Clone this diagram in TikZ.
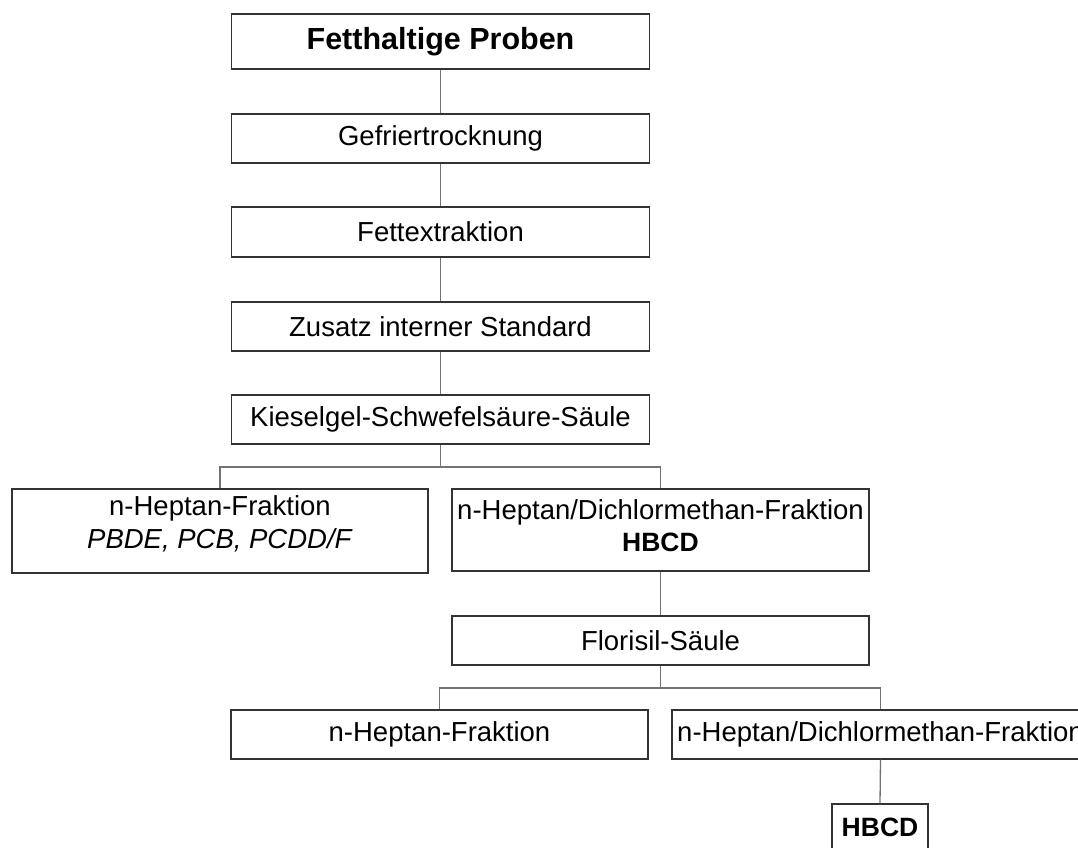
\documentclass[tikz,border=0pt]{standalone}
\usepackage{fontspec}
\setmainfont{Liberation Sans}
\begin{document}
\begin{tikzpicture}[x=1pt,y=-1pt,
  box/.style={draw=black!80, line width=1.2pt, rectangle, inner sep=0pt, align=center,
              font=\fontsize{27.5}{30}\selectfont, text=black},
  txt/.style={inner sep=0pt, align=center, text=black},
  conn/.style={draw=black!55, line width=1.3pt}]
\clip (0,0) rectangle (1078,847);
\node[box, minimum width=418pt, minimum height=55pt, font=\fontsize{30.5}{34}\selectfont\bfseries] (p) at (440.5,41.5) {Fetthaltige Proben};
\node[box, minimum width=418pt, minimum height=49pt] (g) at (440.5,138.5) {Gefriertrocknung};
\node[box, minimum width=418pt, minimum height=50pt] (fe) at (440.5,232) {Fettextraktion};
\node[box, minimum width=418pt, minimum height=49pt] (z) at (440.5,326.5) {Zusatz interner Standard};
\node[box, minimum width=418pt, minimum height=49pt] (k) at (440.5,419.5) {Kieselgel-Schwefelsäure-Säule};
\node[box, minimum width=416pt, minimum height=84pt] (l1) at (220,531) {};
\node[txt, font=\fontsize{27.5}{33}\selectfont] (l1t) at (220,524) {n-Heptan-Fraktion\\\textit{PBDE, PCB, PCDD/F}};
\node[box, minimum width=417pt, minimum height=82pt] (r1) at (660.5,530) {};
\node[txt, font=\fontsize{27.5}{32}\selectfont] (r1t) at (660.5,526) {n-Heptan/Dichlormethan-Fraktion\\{\fontsize{26.5}{32}\selectfont\bfseries HBCD}};
\node[box, minimum width=417pt, minimum height=49pt] (f) at (660.5,640.5) {Florisil-Säule};
\node[box, minimum width=417pt, minimum height=49pt] (l2) at (439.5,734.5) {n-Heptan-Fraktion};
\node[box, minimum width=417pt, minimum height=49pt] (r2) at (880.5,734.5) {n-Heptan/Dichlormethan-Fraktion};
\node[box, minimum width=96pt, minimum height=46pt, font=\fontsize{26.5}{30}\selectfont\bfseries] (h) at (880,827) {HBCD};
\coordinate (b1) at (440.5,467);
\coordinate (b2) at (660.5,688);
\draw[conn] (p.south) -- (g.north);
\draw[conn] (g.south) -- (fe.north);
\draw[conn] (fe.south) -- (z.north);
\draw[conn] (z.south) -- (k.north);
\draw[conn] (k.south) -- (b1);
\draw[conn] (b1) -| (l1.north);
\draw[conn] (b1) -| (r1.north);
\draw[conn] (r1.south) -- (f.north);
\draw[conn] (f.south) -- (b2);
\draw[conn] (b2) -| (l2.north);
\draw[conn] (b2) -| (r2.north);
\draw[conn] (r2.south) -- (h.north);
\end{tikzpicture}
\end{document}
